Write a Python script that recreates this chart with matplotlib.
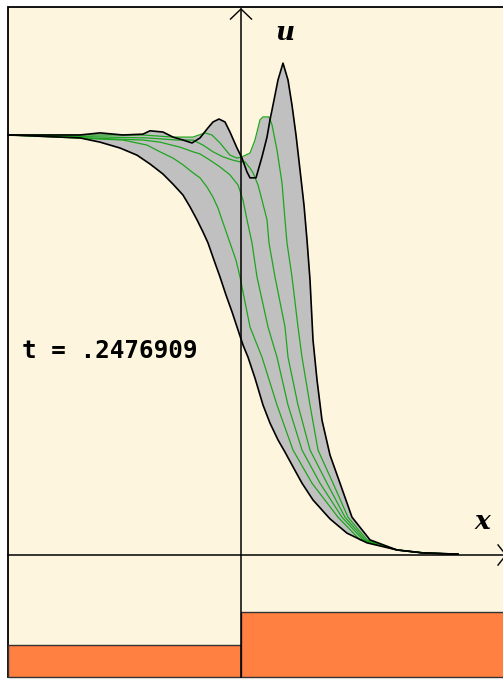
import numpy as np
import matplotlib.pyplot as plt
from matplotlib.patches import Rectangle

# initial profile (lower black curve)
x_init = [-2.33, -2.11, -1.81, -1.61, -1.41, -1.21, -1.04, -0.91, -0.78, -0.68,
          -0.58, -0.51, -0.44, -0.38, -0.33, -0.27, -0.21, -0.15, -0.09, -0.04,
          0.02, 0.07, 0.14, 0.22, 0.29, 0.37, 0.44, 0.52, 0.61, 0.72,
          0.89, 1.06, 1.26, 1.56, 1.82, 2.17]
u_init = [1.000, 0.998, 0.995, 0.993, 0.983, 0.969, 0.952, 0.931, 0.907, 0.883,
          0.857, 0.829, 0.798, 0.769, 0.743, 0.702, 0.662, 0.619, 0.579, 0.543,
          0.500, 0.471, 0.421, 0.357, 0.314, 0.274, 0.245, 0.210, 0.171, 0.131,
          0.086, 0.052, 0.029, 0.012, 0.005, 0.002]

# current profile at t (upper black curve)
x_now = [-2.33, -1.61, -1.41, -1.18, -0.98, -0.91, -0.78, -0.68, -0.58, -0.49,
         -0.41, -0.33, -0.28, -0.22, -0.16, -0.11, -0.04, 0.01, 0.06, 0.09,
         0.15, 0.21, 0.26, 0.29, 0.33, 0.37, 0.42, 0.47, 0.51, 0.55,
         0.59, 0.63, 0.66, 0.69, 0.72, 0.76, 0.81, 0.89, 0.99, 1.11,
         1.29, 1.56, 1.82, 2.17]
u_now = [1.000, 1.000, 1.005, 1.000, 1.002, 1.010, 1.007, 0.995, 0.988, 0.981,
         0.993, 1.017, 1.031, 1.038, 1.031, 1.007, 0.969, 0.945, 0.912, 0.898,
         0.898, 0.948, 0.995, 1.036, 1.083, 1.131, 1.171, 1.131, 1.071, 1.000,
         0.917, 0.833, 0.750, 0.655, 0.512, 0.417, 0.321, 0.238, 0.171, 0.090,
         0.036, 0.012, 0.005, 0.002]

# intermediate profiles (green)
x_g1 = [-2.33, -0.98, -0.68, -0.48, -0.36, -0.29, -0.21, -0.11, -0.04, 0.01,
        0.09, 0.14, 0.19, 0.22, 0.28, 0.31, 0.36, 0.41, 0.44, 0.46,
        0.51, 0.57, 0.61, 0.69, 0.77, 0.92, 1.07, 1.26, 1.56, 1.82, 2.17]
u_g1 = [1.000, 1.000, 0.995, 0.995, 1.005, 1.000, 0.981, 0.952, 0.945, 0.948,
        0.957, 0.988, 1.036, 1.043, 1.043, 1.024, 0.964, 0.886, 0.798, 0.743,
        0.662, 0.543, 0.471, 0.357, 0.250, 0.171, 0.090, 0.036, 0.012, 0.005, 0.002]

x_g2 = [-2.33, -0.94, -0.64, -0.48, -0.38, -0.28, -0.18, -0.08, -0.01, 0.04,
        0.09, 0.12, 0.17, 0.21, 0.26, 0.28, 0.34, 0.44, 0.47, 0.57,
        0.69, 0.86, 1.04, 1.24, 1.56, 1.82, 2.17]
u_g2 = [1.000, 0.993, 0.988, 0.988, 0.976, 0.960, 0.948, 0.940, 0.936, 0.936,
        0.921, 0.910, 0.881, 0.845, 0.798, 0.743, 0.662, 0.543, 0.471, 0.357,
        0.250, 0.171, 0.090, 0.036, 0.012, 0.005, 0.002]

x_g3 = [-2.33, -0.98, -0.81, -0.61, -0.48, -0.41, -0.31, -0.21, -0.11, -0.03,
        0.02, 0.06, 0.11, 0.16, 0.27, 0.36, 0.47, 0.61, 0.79, 1.01,
        1.22, 1.56, 1.82, 2.17]
u_g3 = [1.000, 0.988, 0.983, 0.971, 0.960, 0.955, 0.940, 0.924, 0.905, 0.881,
        0.845, 0.798, 0.743, 0.662, 0.543, 0.471, 0.357, 0.250, 0.171, 0.090,
        0.036, 0.012, 0.005, 0.002]

x_g4 = [-2.33, -1.18, -0.94, -0.81, -0.68, -0.58, -0.48, -0.41, -0.34, -0.28,
        -0.23, -0.19, -0.11, -0.05, -0.01, 0.09, 0.21, 0.36, 0.52, 0.71,
        0.97, 1.19, 1.56, 1.82, 2.17]
u_g4 = [1.000, 0.988, 0.976, 0.960, 0.945, 0.929, 0.910, 0.898, 0.876, 0.852,
        0.826, 0.798, 0.743, 0.702, 0.662, 0.543, 0.471, 0.357, 0.250, 0.171,
        0.090, 0.036, 0.012, 0.005, 0.002]

# bottom step (orange)
bed_edges = [-2.33, 0.0, 2.70]
bed_height = [0.076, 0.155]

t_label = "t = .2476909"

cream = '#fdf5de'
grey = '#c0c0c0'
green = '#1ea51e'
orange = '#ff8040'

fig = plt.figure(figsize=(5.03, 6.80), dpi=100)
ax = fig.add_axes([0, 0, 1, 1])
ax.set_xlim(-2.41, 2.62)
ax.set_ylim(-0.2976, 1.3214)
ax.axis('off')

floor = -0.2905
top = 1.3048
ax.add_patch(Rectangle((-2.33, floor), 5.2, top - floor, facecolor=cream,
                       edgecolor='black', lw=1.3, zorder=0))

# orange step
ax.bar(bed_edges[:-1], bed_height, width=np.diff(bed_edges), bottom=floor,
       align='edge', color=orange, edgecolor='#333333', lw=1.0, zorder=1)

# grey band between lowest and highest profile
curves = [(x_init, u_init), (x_g4, u_g4), (x_g3, u_g3), (x_g2, u_g2),
          (x_g1, u_g1), (x_now, u_now)]
xs = np.linspace(-2.33, 2.17, 3000)
all_u = np.array([np.interp(xs, cx, cu) for cx, cu in curves])
ax.fill_between(xs, all_u.min(axis=0), all_u.max(axis=0), color=grey, lw=0, zorder=2)

for cx, cu in curves[1:-1]:
    ax.plot(cx, cu, color=green, lw=0.9, zorder=3)
ax.plot(x_init, u_init, color='black', lw=1.2, zorder=4)
ax.plot(x_now, u_now, color='black', lw=1.2, zorder=4)

# axes with arrow heads
ax.plot([0, 0], [floor, 1.30], color='black', lw=1.1, zorder=5)
ax.plot([-0.105, 0, 0.105], [1.276, 1.30, 1.276], color='black', lw=1.0, zorder=5)
ax.plot([-2.33, 2.65], [0, 0], color='black', lw=1.1, zorder=5)
ax.plot([2.57, 2.65, 2.57], [0.024, 0, -0.024], color='black', lw=1.0, zorder=5)

ax.text(0.44, 1.243, 'u', fontsize=19, family='DejaVu Serif', style='italic',
        weight='bold', ha='center', va='center')
ax.text(2.41, 0.079, 'x', fontsize=19, family='DejaVu Serif', style='italic',
        weight='bold', ha='center', va='center')
ax.text(-2.19, 0.469, t_label, fontsize=17.5, family='DejaVu Sans Mono',
        weight='bold', ha='left', va='baseline')

fig.savefig('out.png', dpi=100, facecolor='white')
